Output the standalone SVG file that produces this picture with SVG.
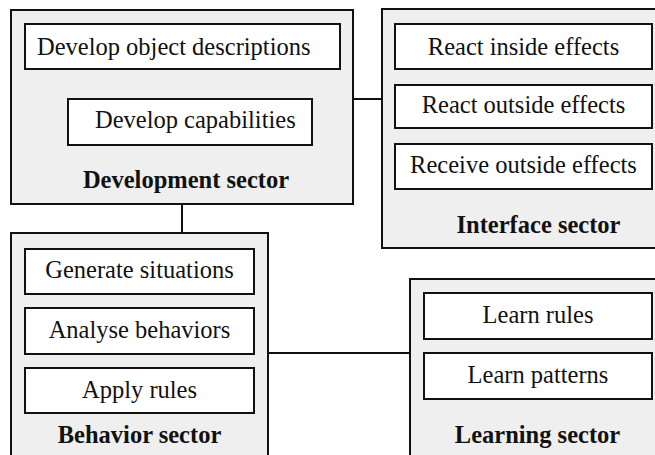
<svg xmlns="http://www.w3.org/2000/svg" width="655" height="455" viewBox="0 0 655 455">
<style>
.sector{fill:#efefef;stroke:#111;stroke-width:2}
.item{fill:#fff;stroke:#111;stroke-width:2}
.t{font-family:"Liberation Serif","Times New Roman",Times,serif;font-size:24.5px;fill:#111}
.c{text-anchor:middle}
.b{font-weight:bold}
.conn{stroke:#111;stroke-width:2;fill:none}
</style>
<rect width="655" height="455" fill="#fff"/>
<g id="connectors">
<line class="conn" x1="182" y1="204" x2="182" y2="233"/>
<line class="conn" x1="353" y1="99" x2="382" y2="99"/>
<line class="conn" x1="268" y1="353" x2="410" y2="353"/>
</g>
<g id="development">
<rect class="sector" x="11" y="10" width="342" height="194"/>
<rect class="item" x="25" y="24" width="315" height="45"/>
<text class="t" x="37" y="55">Develop object descriptions</text>
<rect class="item" x="68" y="99" width="244" height="46"/>
<text class="t" x="95" y="128">Develop capabilities</text>
<text class="t b c" x="186" y="188">Development sector</text>
</g>
<g id="interface">
<rect class="sector" x="382" y="9" width="290" height="239"/>
<rect class="item" x="395" y="24" width="257" height="45"/>
<text class="t c" x="523.5" y="55">React inside effects</text>
<rect class="item" x="395" y="85" width="257" height="43"/>
<text class="t c" x="523.5" y="113">React outside effects</text>
<rect class="item" x="395" y="144" width="257" height="45"/>
<text class="t c" x="523.5" y="173">Receive outside effects</text>
<text class="t b c" x="538.5" y="233">Interface sector</text>
</g>
<g id="behavior">
<rect class="sector" x="11" y="233" width="257" height="250"/>
<rect class="item" x="25" y="249" width="229" height="45"/>
<text class="t c" x="139.5" y="278">Generate situations</text>
<rect class="item" x="25" y="308" width="229" height="46"/>
<text class="t c" x="139.5" y="338">Analyse behaviors</text>
<rect class="item" x="25" y="368" width="229" height="45"/>
<text class="t c" x="139.5" y="398">Apply rules</text>
<text class="t b c" x="139.5" y="443">Behavior sector</text>
</g>
<g id="learning">
<rect class="sector" x="410" y="279" width="260" height="200"/>
<rect class="item" x="424" y="293" width="228" height="46"/>
<text class="t c" x="538" y="323">Learn rules</text>
<rect class="item" x="424" y="353" width="228" height="46"/>
<text class="t c" x="538" y="383">Learn patterns</text>
<text class="t b c" x="537.5" y="443">Learning sector</text>
</g>
</svg>
